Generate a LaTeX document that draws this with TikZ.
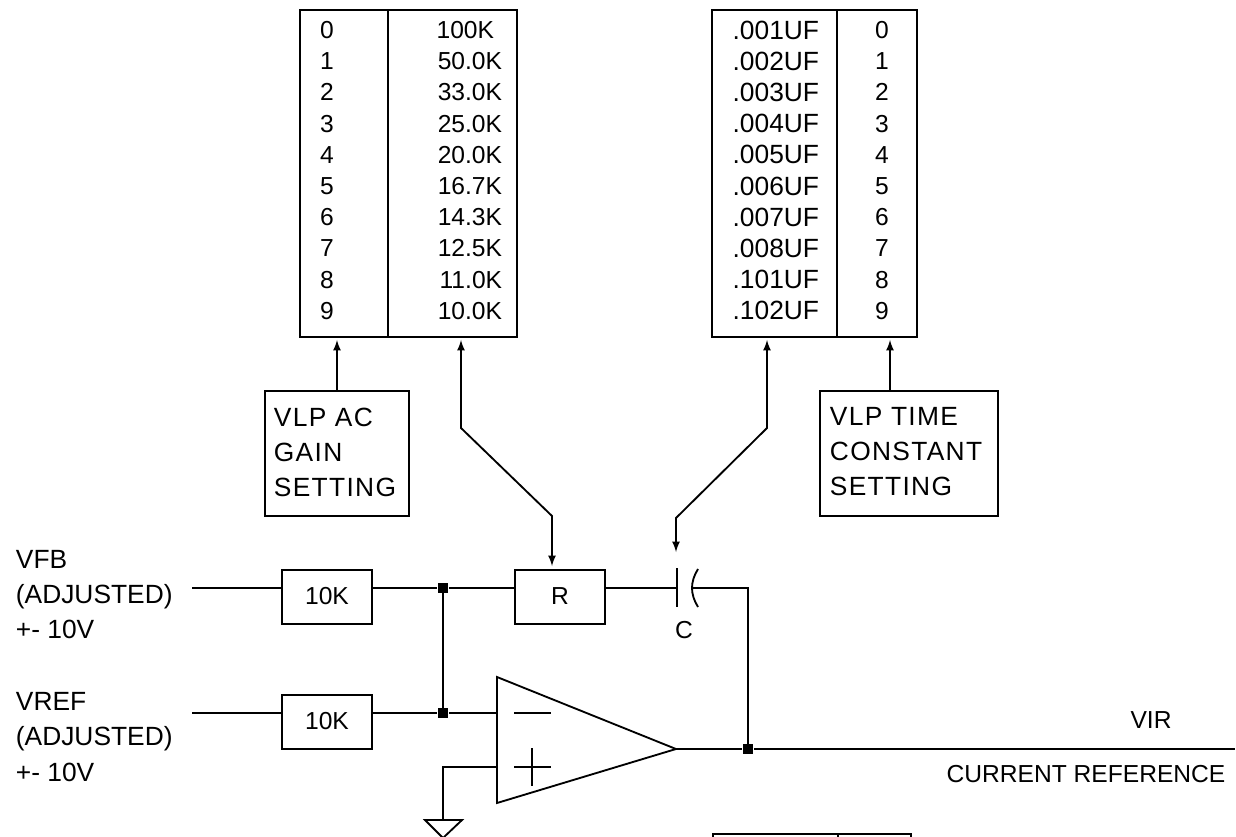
\documentclass[tikz,border=0pt]{standalone}
\usepackage{fontspec}
\usepackage{tikz}
\setmainfont{Liberation Sans}
\newfontfamily\widefont[LetterSpace=5]{Liberation Sans}

\tikzset{
    wire/.style={line width=1.05pt},
    box/.style={rectangle,draw,line width=1.05pt,inner sep=0pt},
    dot/.style={rectangle,fill=black,inner sep=0pt,minimum size=6pt},
    label/.style={inner sep=0pt,font=\fontsize{14}{19.9}\selectfont},
    sidelabel/.style={inner sep=0pt,font=\fontsize{15}{20.1}\selectfont},
    boxlabel/.style={inner sep=0pt,font=\fontsize{15}{19.9}\selectfont\widefont},
}

\begin{document}
\begin{tikzpicture}[x=0.02cm,y=-0.02cm,>=latex,wire]
    \clip (0,0) rectangle (1236,837);

\begin{scope}[every node/.style={box}]
    \node[minimum width=217*0.02cm,minimum height=327*0.02cm] (gaintab) at (408.5,173.5){};
    \node[minimum width=205*0.02cm,minimum height=327*0.02cm] (timetab) at (814.5,173.5){};
    \node[minimum width=198*0.02cm,minimum height=60*0.02cm] (lowtab) at (812,864){};
    \node[minimum width=144*0.02cm,minimum height=125*0.02cm] (acbox) at (337,453.5){};
    \node[minimum width=178*0.02cm,minimum height=125*0.02cm] (tcbox) at (909,453.5){};
    \node[minimum width=90*0.02cm,minimum height=54*0.02cm,label] (fbres) at (327,597){\raisebox{1pt}{10K}};
    \node[minimum width=90*0.02cm,minimum height=54*0.02cm,label] (refres) at (327,722){\raisebox{1pt}{10K}};
    \node[minimum width=90*0.02cm,minimum height=54*0.02cm,label] (rbox) at (560,597){\raisebox{1pt}{R}};
\end{scope}

    % table rows
    \foreach \n/\rval/\cval/\rx [count=\i from 0] in {0/100K/.001UF/495,1/50.0K/.002UF/503,2/33.0K/.003UF/503,3/25.0K/.004UF/503,4/20.0K/.005UF/503,5/16.7K/.006UF/503,6/14.3K/.007UF/503,7/12.5K/.008UF/503,8/11.0K/.101UF/503,9/10.0K/.102UF/503}{
        \node[label] (gn\i) at (327,30+31.2*\i){\n};
        \node[label,anchor=east] (gv\i) at (\rx,30+31.2*\i){\rval};
        \node[sidelabel,anchor=east] (tv\i) at (820,30+31.2*\i){\cval};
        \node[label] (tn\i) at (882,30+31.2*\i){\n};
    }
    \draw (gaintab.north west) ++(89,0) -- ++(0,327);
    \draw (timetab.north west) ++(126,0) -- ++(0,327);
    \draw (lowtab.north west) ++(126,0) -- ++(0,60);

    \node[boxlabel,align=left,anchor=west] (actext) at (273,452){VLP AC\\GAIN\\SETTING};
    \node[boxlabel,align=left,anchor=west] (tctext) at (829,452){VLP TIME\\CONSTANT\\SETTING};
    \node[sidelabel,align=left,anchor=west] (fbtext) at (15,594.5){VFB\\(ADJUSTED)\\+- 10V};
    \node[sidelabel,align=left,anchor=west] (reftext) at (15,737){VREF\\(ADJUSTED)\\+- 10V};
    \node[label] (ctext) at (684,630){C};
    \node[label] (virtext) at (1151,720){VIR};
    \node[label] (curtext) at (1086,774){CURRENT REFERENCE};

    \coordinate (gainup) at (337,340);
    \coordinate (resup) at (461,340);
    \coordinate (capup) at (767,340);
    \coordinate (timeup) at (890,340);
    \coordinate (reshi) at (461,428);
    \coordinate (reslo) at (552,516);
    \coordinate (caphi) at (767,428);
    \coordinate (caplo) at (676,518);
    \coordinate (resdown) at (552,566);
    \coordinate (capdown) at (676,552);

    \path [->] (acbox.north) edge (gainup);
    \path [->] (tcbox.north -| timeup) edge (timeup);
    \draw [<->] (resup) -- (reshi) -- (reslo) -- (resdown);
    \draw [<->] (capup) -- (caphi) -- (caplo) -- (capdown);

    % amplifier
    \coordinate (ampm) at (497,713);
    \coordinate (ampp) at (497,767);
    \coordinate (ampout) at (676,749);
    \draw (497,677) -- (ampout) -- (497,803) -- cycle;
    \draw (514,713) -- (551,713);
    \draw (514,767) -- (551,767);
    \draw (532,748) -- (532,786);

    \coordinate (fbin) at (192,588);
    \coordinate (refin) at (192,713);
    \coordinate (vout) at (1235,749);
    \coordinate (gnd) at (443,820);
    \coordinate (capl) at (677,588);
    \coordinate (capr) at (693,588);

    \node[dot] (jfb) at (443,588){};
    \node[dot] (jref) at (443,713){};
    \node[dot] (jout) at (748,749){};

    \draw (fbin) -- (fbin -| fbres.west);
    \draw (jfb -| fbres.east) -- (jfb) -- (jfb -| rbox.west);
    \draw (refin) -- (refin -| refres.west);
    \draw (jref -| refres.east) -- (jref) -- (ampm);
    \draw (jfb.center) -- (jref.center);
    \draw (jfb -| rbox.east) -- (capl);
    \draw (capr) -- (capr -| jout) -- (jout.center);
    \draw (ampout) -- (jout) -- (vout);
    \draw (ampp) -| (gnd);

    % capacitor plates
    \draw (677,568) -- (677,607);
    \draw (698,569) .. controls (690,582) and (690,594) .. (698,607);

    % ground
    \draw (425,820) -- (462,820) -- (443,838) -- cycle;
\end{tikzpicture}
\end{document}
